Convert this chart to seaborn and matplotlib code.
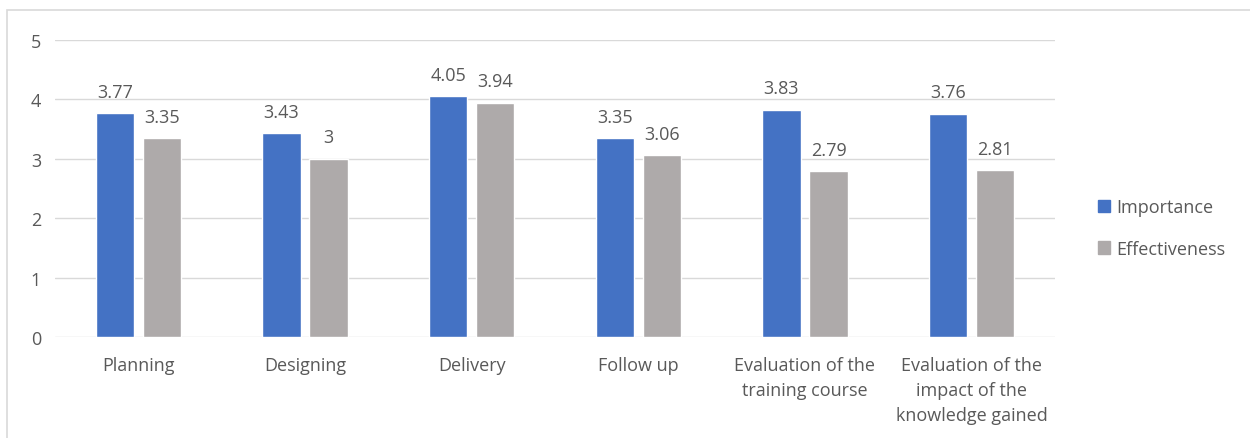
import matplotlib
matplotlib.use("Agg")
import matplotlib.pyplot as plt
import matplotlib.patches as mpatches
import pandas as pd
import seaborn as sns

stages = ["Planning", "Designing", "Delivery", "Follow up",
          "Evaluation of the\ntraining course",
          "Evaluation of the\nimpact of the\nknowledge gained"]
importance = [3.77, 3.43, 4.05, 3.35, 3.83, 3.76]
effectiveness = [3.35, 3.00, 3.94, 3.06, 2.79, 2.81]
series = ["Importance", "Effectiveness"]
colors = ["#4472C4", "#AEAAAA"]
text_color = "#595959"
grid_color = "#D9D9D9"

df = pd.DataFrame({
    "stage": stages * 2,
    "score": importance + effectiveness,
    "series": [series[0]] * len(stages) + [series[1]] * len(stages),
})

sns.set_theme(style="white")
plt.rcParams["font.family"] = ["Open Sans", "DejaVu Sans"]

fig = plt.figure(figsize=(12.5, 4.39), dpi=100)
ax = fig.add_axes([0.044, 0.230, 0.800, 0.6766])

sns.barplot(data=df, x="stage", y="score", hue="series", order=stages,
            hue_order=series, palette=colors, width=0.564, gap=0.19,
            saturation=1, legend=False, ax=ax)

for cont in ax.containers:
    labels = [f"{v:g}" for v in cont.datavalues]
    ax.bar_label(cont, labels=labels, padding=9, fontsize=13, color=text_color)

ax.set_ylim(0, 5)
ax.set_xlim(-0.5, len(stages) - 0.5)
ax.set_yticks(range(0, 6))
ax.yaxis.grid(True, color=grid_color, linewidth=1)
ax.set_axisbelow(True)
for s in ax.spines.values():
    s.set_visible(False)
ax.tick_params(axis="both", length=0, labelsize=13, colors=text_color)
ax.tick_params(axis="y", pad=10)
ax.tick_params(axis="x", pad=14)
ax.set_xlabel("")
ax.set_ylabel("")
for lbl in ax.get_xticklabels():
    lbl.set_linespacing(1.5)

handles = [mpatches.Patch(color=c, label=l) for c, l in zip(colors, series)]
leg = fig.legend(handles=handles, loc="center left",
                 bbox_to_anchor=(0.865, 0.478), frameon=False, fontsize=13,
                 handlelength=0.7, handleheight=0.7, handletextpad=0.35,
                 labelspacing=1.3)
for t in leg.get_texts():
    t.set_color(text_color)

# outer chart frame
fig.patches.append(mpatches.Rectangle((7 / 1250, -0.1), 1.1, (439 - 11) / 439 + 0.1,
                                      transform=fig.transFigure, fill=False,
                                      edgecolor="#D9D9D9", linewidth=1.2))

fig.savefig("out.png", dpi=100)
